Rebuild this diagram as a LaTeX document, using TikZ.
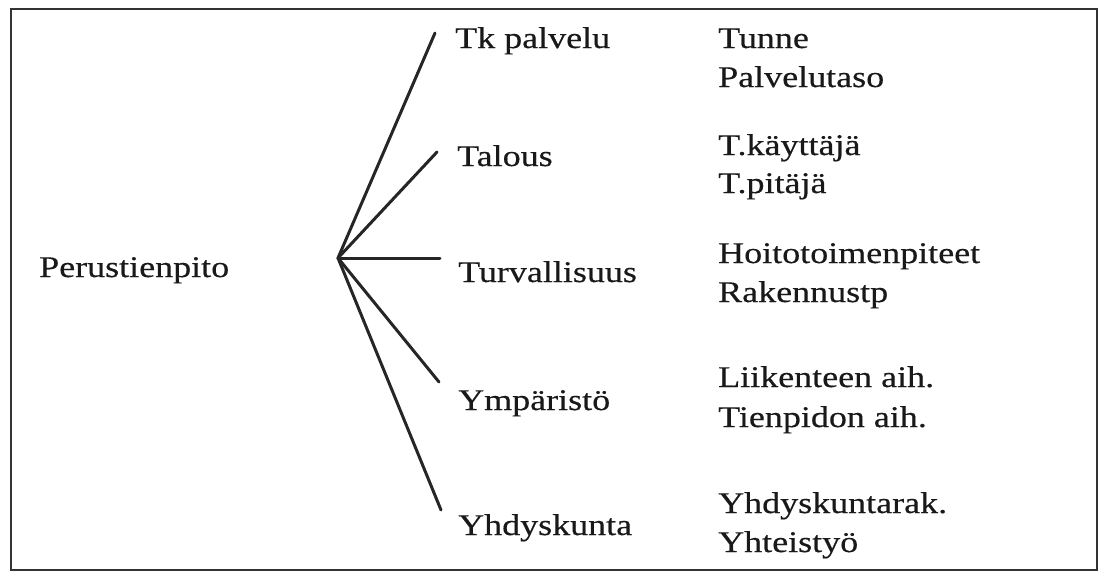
\documentclass[tikz,border=0pt]{standalone}
\usepackage{fontspec}
\setmainfont[FakeStretch=1.2,FakeBold=0.4]{Liberation Serif}
\begin{document}
\begin{tikzpicture}[x=1pt,y=-1pt,
  lbl/.style={anchor=base west,inner sep=0pt,font=\fontsize{30}{36}\selectfont,text=black!90},
  conn/.style={line width=3pt,draw=black!85,line cap=round},
  frame/.style={line width=1.8pt,draw=black!80}]
\useasboundingbox (0,0) rectangle (1101,573);
\draw[frame] (11,9) rectangle (1097,570);
\node[lbl] (root) at (39,277) {Perustienpito};
\coordinate (hub) at (338,258);
\coordinate (e1) at (435,33);
\coordinate (e2) at (437,152);
\coordinate (e3) at (440,258);
\coordinate (e4) at (439,382);
\coordinate (e5) at (441,510);
\draw[conn] (hub) -- (e1);
\draw[conn] (hub) -- (e2);
\draw[conn] (hub) -- (e3);
\draw[conn] (hub) -- (e4);
\draw[conn] (hub) -- (e5);
\node[lbl] (a1) at (455,48) {Tk palvelu};
\node[lbl] (a2) at (457,166) {Talous};
\node[lbl] (a3) at (458,282) {Turvallisuus};
\node[lbl] (a4) at (458,410) {Ympäristö};
\node[lbl] (a5) at (458,535) {Yhdyskunta};
\node[lbl] (b1) at (718,48) {Tunne};
\node[lbl] (b2) at (718,87) {Palvelutaso};
\node[lbl] (b3) at (718,155) {T.käyttäjä};
\node[lbl] (b4) at (718,193) {T.pitäjä};
\node[lbl] (b5) at (718,263) {Hoitotoimenpiteet};
\node[lbl] (b6) at (718,302) {Rakennustp};
\node[lbl] (b7) at (718,387) {Liikenteen aih.};
\node[lbl] (b8) at (718,427) {Tienpidon aih.};
\node[lbl] (b9) at (718,513) {Yhdyskuntarak.};
\node[lbl] (b10) at (718,552) {Yhteistyö};
\end{tikzpicture}
\end{document}
